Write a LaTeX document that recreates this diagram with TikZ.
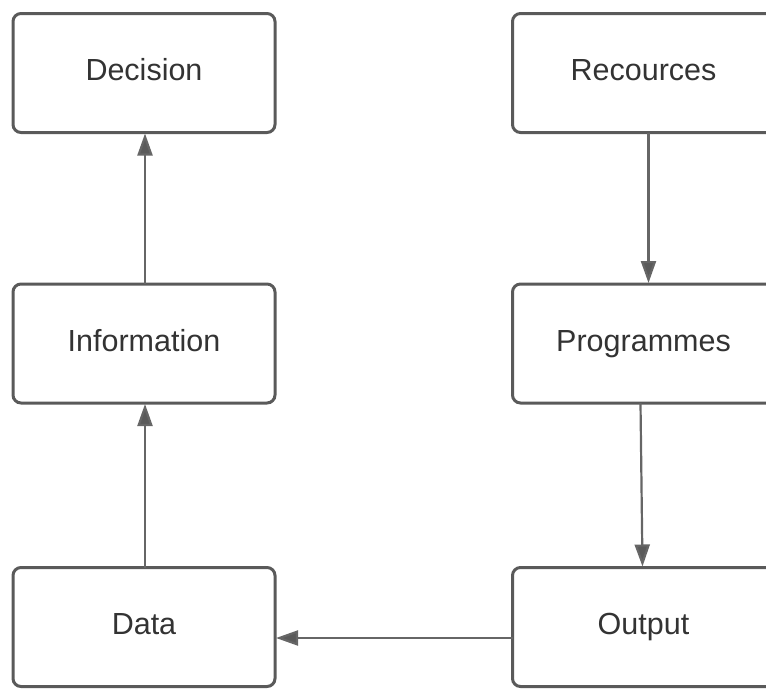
\documentclass[tikz,border=0pt]{standalone}
\usepackage{fontspec}
\setmainfont{Liberation Sans}
\usetikzlibrary{arrows.meta}
\definecolor{boxline}{HTML}{5A5A5A}
\definecolor{arrline}{HTML}{666666}
\definecolor{txt}{HTML}{333333}
\tikzset{
  box/.style={draw=boxline, line width=3pt, rounded corners=8pt, fill=white,
    minimum width=262pt, minimum height=119pt, inner sep=0pt, outer sep=0pt,
    text height=21pt, text depth=6pt,
    text=txt, font=\fontsize{30.5}{32}\selectfont},
  conn/.style={draw=arrline, line width=2.2pt,
    -{Triangle[length=22pt,width=15pt,fill=boxline]}, shorten >=1pt}
}
\begin{document}
\begin{tikzpicture}[x=1pt,y=-1pt]
\useasboundingbox (0,0) rectangle (766,689);
\clip (0,0) rectangle (766,689);
\node[box] (dec) at (144,73) {Decision};
\node[box] (info) at (144,343.5) {Information};
\node[box] (data) at (144,627) {Data};
\node[box] (rec) at (643.5,73) {Recources};
\node[box] (prog) at (643.5,343.5) {Programmes};
\node[box] (out) at (643.5,627) {Output};
\draw[conn] ([xshift=1pt]info.north) -- ([xshift=1pt]dec.south);
\draw[conn] ([xshift=1pt]data.north) -- ([xshift=1pt]info.south);
\draw[conn] ([xshift=5pt]rec.south) -- ([xshift=5pt]prog.north);
\draw[conn] ([xshift=-3pt]prog.south) -- ([xshift=-1pt]out.north);
\draw[conn] ([yshift=-11pt]out.west) -- ([yshift=-11pt]data.east);
\end{tikzpicture}
\end{document}
